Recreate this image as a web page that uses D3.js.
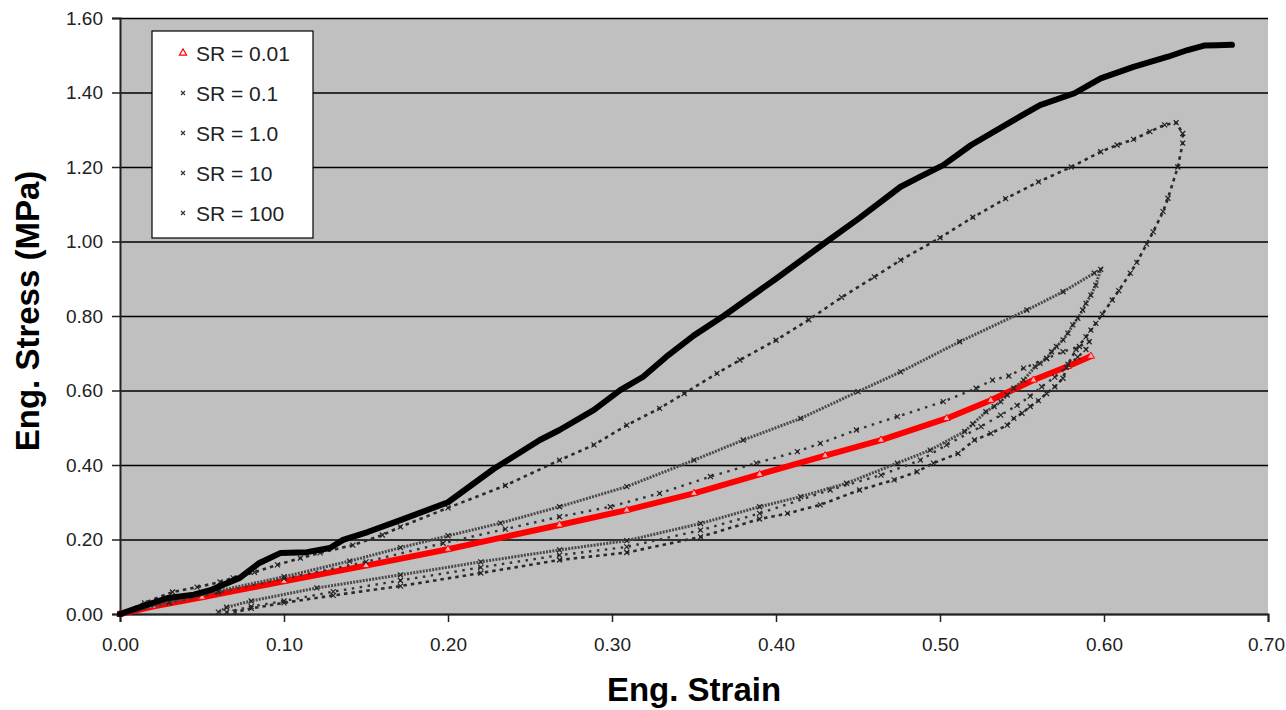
<!DOCTYPE html>
<html>
<head>
<meta charset="utf-8">
<script src="https://cdn.jsdelivr.net/npm/d3@7"></script>
<style>
  body { margin: 0; background: #fff; }
  #container { width: 1286px; height: 710px; }
</style>
</head>
<body>
<div id="container"></div>
<script>
// values (strain, stress in MPa)
let seriesLabels = ['SR = 0.01', 'SR = 0.1', 'SR = 1.0', 'SR = 10', 'SR = 100'];
let strainTicks = [0, 0.1, 0.2, 0.3, 0.4, 0.5, 0.6, 0.7];
let stressTicks = [0, 0.2, 0.4, 0.6, 0.8, 1.0, 1.2, 1.4, 1.6];

// SR = 0.01 (loading only)
let sr001Strain = [0, 0.02, 0.05, 0.1, 0.15, 0.2, 0.268, 0.309, 0.35, 0.39, 0.43, 0.464, 0.504, 0.531, 0.557, 0.578, 0.592];
let sr001Stress = [0, 0.02, 0.045, 0.088, 0.13, 0.174, 0.239, 0.279, 0.324, 0.375, 0.425, 0.467, 0.525, 0.574, 0.628, 0.665, 0.692];

// SR = 0.1 (load + unload)
let sr01Strain = [0, 0.03, 0.06, 0.1, 0.15, 0.197, 0.235, 0.268, 0.299, 0.329, 0.36, 0.388, 0.413, 0.427, 0.449, 0.474, 0.502, 0.522, 0.532, 0.542, 0.551, 0.565, 0.575, 0.585, 0.591,
                  0.589, 0.584, 0.577, 0.57, 0.562, 0.555, 0.547, 0.537, 0.525, 0.504, 0.488, 0.464, 0.433, 0.39, 0.354, 0.309, 0.268, 0.22, 0.171, 0.13, 0.1, 0.08, 0.065];
let sr01Stress = [0, 0.03, 0.058, 0.095, 0.14, 0.19, 0.228, 0.261, 0.288, 0.324, 0.369, 0.405, 0.436, 0.458, 0.494, 0.53, 0.57, 0.606, 0.628, 0.639, 0.66, 0.686, 0.704, 0.718, 0.731,
                  0.71, 0.69, 0.662, 0.636, 0.61, 0.585, 0.56, 0.534, 0.503, 0.454, 0.413, 0.373, 0.333, 0.27, 0.225, 0.18, 0.158, 0.125, 0.09, 0.06, 0.035, 0.02, 0.005];

// SR = 1.0 (load + unload)
let sr1Strain = [0, 0.03, 0.06, 0.1, 0.14, 0.171, 0.2, 0.232, 0.268, 0.309, 0.35, 0.38, 0.415, 0.45, 0.476, 0.512, 0.553, 0.575, 0.594, 0.598,
                 0.595, 0.592, 0.589, 0.587, 0.584, 0.581, 0.578, 0.575, 0.571, 0.568, 0.565, 0.561, 0.558, 0.551, 0.545, 0.541, 0.537, 0.533, 0.528, 0.52, 0.515,
                 0.494, 0.474, 0.443, 0.415, 0.39, 0.354, 0.309, 0.268, 0.22, 0.171, 0.12, 0.08, 0.065, 0.06];
let sr1Stress = [0, 0.032, 0.062, 0.1, 0.142, 0.178, 0.21, 0.244, 0.288, 0.342, 0.413, 0.467, 0.525, 0.597, 0.65, 0.731, 0.816, 0.865, 0.915, 0.925,
                 0.883, 0.856, 0.834, 0.816, 0.794, 0.776, 0.754, 0.736, 0.718, 0.704, 0.686, 0.673, 0.664, 0.628, 0.606, 0.588, 0.57, 0.557, 0.543, 0.51, 0.49,
                 0.44, 0.405, 0.351, 0.315, 0.288, 0.243, 0.197, 0.172, 0.14, 0.105, 0.07, 0.035, 0.018, 0.005];

// SR = 10 (load + unload)
let sr10Strain = [0, 0.015, 0.032, 0.047, 0.061, 0.069, 0.082, 0.096, 0.11, 0.122, 0.142, 0.16, 0.171, 0.2, 0.235, 0.268, 0.289, 0.309, 0.329, 0.344, 0.364, 0.378,
                  0.4, 0.42, 0.44, 0.46, 0.476, 0.5, 0.52, 0.54, 0.56, 0.58, 0.598, 0.608, 0.618, 0.628, 0.637, 0.644,
                  0.648, 0.648, 0.645, 0.639, 0.636, 0.63, 0.626, 0.62, 0.616, 0.609, 0.605, 0.599, 0.595, 0.592, 0.589, 0.583, 0.578, 0.575, 0.57, 0.565, 0.56, 0.555, 0.55,
                  0.545, 0.541, 0.531, 0.521, 0.511, 0.496, 0.486, 0.472, 0.451, 0.427, 0.407, 0.39, 0.354, 0.309, 0.268, 0.22, 0.171, 0.13, 0.1, 0.08, 0.07];
let sr10Stress = [0, 0.03, 0.059, 0.072, 0.086, 0.097, 0.112, 0.132, 0.15, 0.164, 0.185, 0.212, 0.234, 0.285, 0.345, 0.413, 0.454, 0.507, 0.552, 0.592, 0.646, 0.682,
                  0.735, 0.79, 0.85, 0.905, 0.95, 1.01, 1.065, 1.115, 1.16, 1.2, 1.241, 1.259, 1.274, 1.295, 1.313, 1.319,
                  1.29, 1.264, 1.2, 1.116, 1.08, 1.026, 0.993, 0.944, 0.915, 0.868, 0.843, 0.805, 0.78, 0.762, 0.744, 0.71, 0.67, 0.633, 0.61, 0.592, 0.573, 0.557, 0.539,
                  0.525, 0.507, 0.485, 0.467, 0.431, 0.405, 0.382, 0.36, 0.333, 0.293, 0.27, 0.255, 0.207, 0.165, 0.145, 0.11, 0.075, 0.05, 0.03, 0.015, 0.005];

// SR = 100 (loading only, dense)
let sr100Strain = [0, 0.01, 0.029, 0.045, 0.055, 0.073, 0.085, 0.098, 0.114, 0.128, 0.136, 0.151, 0.171, 0.2, 0.228, 0.256, 0.268, 0.289, 0.305, 0.319, 0.333,
                   0.35, 0.368, 0.4, 0.431, 0.45, 0.476, 0.488, 0.502, 0.519, 0.545, 0.561, 0.582, 0.598, 0.618, 0.639, 0.651, 0.661, 0.669, 0.678];
let sr100Stress = [0, 0.015, 0.043, 0.052, 0.064, 0.097, 0.137, 0.164, 0.166, 0.177, 0.199, 0.22, 0.252, 0.30, 0.39, 0.467, 0.494, 0.548, 0.601, 0.637, 0.69,
                   0.748, 0.8, 0.9, 1.0, 1.06, 1.147, 1.174, 1.205, 1.259, 1.326, 1.366, 1.398, 1.438, 1.469, 1.496, 1.514, 1.526, 1.527, 1.528];

let series = [
    d3.zip(sr001Strain, sr001Stress),
    d3.zip(sr01Strain, sr01Stress),
    d3.zip(sr1Strain, sr1Stress),
    d3.zip(sr10Strain, sr10Stress),
    d3.zip(sr100Strain, sr100Stress)
];

let W = 1286, H = 710;
let margin = {left: 120, top: 18, right: 18, bottom: 96};
let w = W - margin.left - margin.right,
    h = H - margin.top - margin.bottom;

let viz = d3.select('#container')
    .append('svg')
      .attr('width', W)
      .attr('height', H)
      .style('font-family', 'Liberation Sans, Arial, sans-serif');

let x = d3.scaleLinear().domain([0, 0.7]).range([0, w]);
let y = d3.scaleLinear().domain([0, 1.6]).range([h, 0]);

let g = viz.append('g')
    .attr('transform', 'translate(' + margin.left + ',' + margin.top + ')');

g.append('rect')
    .attr('width', w)
    .attr('height', h)
    .attr('fill', '#c0c0c0');

// gridlines
g.append('g')
    .attr('class', 'grid')
    .call(d3.axisLeft(y).tickValues(stressTicks).tickSize(-w).tickFormat(''))
    .call(s => s.select('.domain').remove())
    .call(s => s.selectAll('line').attr('stroke', '#000').attr('stroke-width', 1.5));

// axes
let yAxis = g.append('g')
    .call(d3.axisLeft(y).tickValues(stressTicks).tickSize(8).tickPadding(9).tickFormat(d3.format('.2f')));
let xAxis = g.append('g')
    .attr('transform', 'translate(0,' + h + ')')
    .call(d3.axisBottom(x).tickValues(strainTicks).tickSize(8).tickPadding(16).tickFormat(d3.format('.2f')));

[xAxis, yAxis].forEach(a => {
    a.selectAll('text').attr('font-size', 19).attr('fill', '#222').attr('font-family', 'Liberation Sans, Arial, sans-serif');
    a.selectAll('line').attr('stroke', '#222').attr('stroke-width', 1.5);
    a.select('.domain').attr('stroke', '#222').attr('stroke-width', 2);
});
// keep the last strain label inside the page
xAxis.selectAll('.tick text').filter(d => d === 0.7).attr('dx', -2);

let line = d3.line().x(d => x(d[0])).y(d => y(d[1]));
let cross = 'M-2.5,-2.5L2.5,2.5M-2.5,2.5L2.5,-2.5';
let tri = d3.symbol().type(d3.symbolTriangle).size(22);

// SR = 0.01 red band
g.append('path')
    .datum(series[0])
    .attr('d', line)
    .attr('fill', 'none')
    .attr('stroke', '#ff0000')
    .attr('stroke-width', 6)
    .attr('stroke-linejoin', 'round');
g.append('g').selectAll('path')
    .data(series[0])
    .join('path')
    .attr('transform', d => 'translate(' + x(d[0]) + ',' + y(d[1]) + ')')
    .attr('d', tri)
    .attr('fill', '#ffb0b0')
    .attr('stroke', '#ff0000')
    .attr('stroke-width', 1);

// the black x-marker series
let dotted = [
    {i: 1, width: 2.4, dash: '2.5,5.5', color: '#333'},
    {i: 2, width: 3, dash: '2,1.2', color: '#4a4a4a'},
    {i: 3, width: 2.6, dash: '3.5,4', color: '#2a2a2a'}
];
dotted.forEach(sty => {
    g.append('path')
        .datum(series[sty.i])
        .attr('d', line)
        .attr('fill', 'none')
        .attr('stroke', sty.color)
        .attr('stroke-width', sty.width)
        .attr('stroke-dasharray', sty.dash);
    g.append('g').selectAll('path')
        .data(series[sty.i])
        .join('path')
        .attr('transform', d => 'translate(' + x(d[0]) + ',' + y(d[1]) + ')')
        .attr('d', cross)
        .attr('stroke', '#222')
        .attr('stroke-width', 1.2);
});

// SR = 100 thick dense curve
g.append('path')
    .datum(series[4])
    .attr('d', line)
    .attr('fill', 'none')
    .attr('stroke', '#000')
    .attr('stroke-width', 6)
    .attr('stroke-linejoin', 'round')
    .attr('stroke-linecap', 'round');

// axis titles
viz.append('text')
    .attr('x', margin.left + w / 2)
    .attr('y', 701)
    .attr('text-anchor', 'middle')
    .attr('font-size', 33)
    .attr('font-weight', 'bold')
    .attr('fill', '#000')
    .text('Eng. Strain');
viz.append('text')
    .attr('transform', 'translate(39,311) rotate(-90)')
    .attr('text-anchor', 'middle')
    .attr('font-size', 33)
    .attr('font-weight', 'bold')
    .attr('fill', '#000')
    .text('Eng. Stress (MPa)');

// legend
let legend = viz.append('g').attr('transform', 'translate(152,31)');
legend.append('rect')
    .attr('width', 161)
    .attr('height', 207)
    .attr('fill', '#fff')
    .attr('stroke', '#000')
    .attr('stroke-width', 1.2);
let rows = legend.selectAll('g.row')
    .data(seriesLabels)
    .join('g')
    .attr('class', 'row')
    .attr('transform', (d, i) => 'translate(0,' + (22 + i * 40) + ')');
rows.append('path')
    .attr('transform', 'translate(31,0)')
    .attr('d', (d, i) => i === 0 ? tri() : 'M-2,-2L2,2M-2,2L2,-2')
    .attr('fill', (d, i) => i === 0 ? '#fff' : 'none')
    .attr('stroke', (d, i) => i === 0 ? '#ff0000' : '#333')
    .attr('stroke-width', 1.2);
rows.append('text')
    .attr('x', 44)
    .attr('dy', '0.36em')
    .attr('font-size', 21)
    .attr('fill', '#222')
    .text(d => d);
</script>
</body>
</html>
